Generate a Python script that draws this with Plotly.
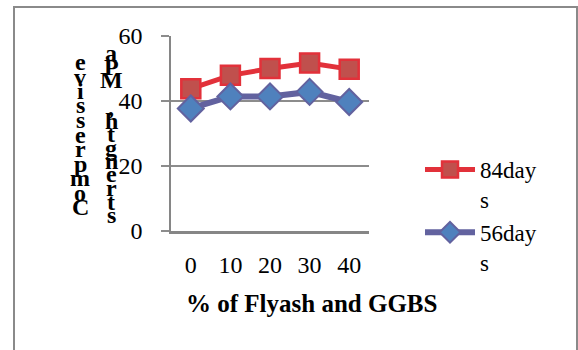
import plotly.graph_objects as go

categories = ["0", "10", "20", "30", "40"]
days84 = [43.8, 47.9, 50.0, 51.7, 49.8]
days56 = [37.7, 41.4, 41.4, 42.8, 39.7]
series_names = ["84day<br>s", "56day<br>s"]
y_ticks = [0, 20, 40, 60]
x_title = "% of Flyash and GGBS"
y_title = "Compressive strength, MPa"

W, H = 578, 350
L, R, T, B = 171, 369, 36, 231

def px2paper(px, py):
    return (px - L) / (R - L), (B - py) / (B - T)

fig = go.Figure()
fig.add_trace(go.Scatter(
    x=categories, y=days84, name=series_names[0], mode="lines+markers",
    line=dict(color="#E2313A", width=5),
    marker=dict(symbol="square", size=19, color="#C0504D",
                line=dict(color="#E2313A", width=2.5)),
))
fig.add_trace(go.Scatter(
    x=categories, y=days56, name=series_names[1], mode="lines+markers",
    line=dict(color="#62629F", width=6),
    marker=dict(symbol="diamond", size=20, color="#4F81BD",
                line=dict(color="#62629F", width=2)),
))

serif = "Liberation Serif"
annotations = []
# x-axis title
ax, ay = px2paper(311, 303)
annotations.append(dict(text=x_title, xref="paper", yref="paper", x=ax, y=ay,
                        showarrow=False, xanchor="center", yanchor="middle",
                        font=dict(family=serif, size=25, color="black", weight="bold")))
# y-axis title, rendered as stacked letters in two columns (bottom-to-top)
words = y_title.split(" ", 1)
cols = [(words[0], 80, 62, 207), (words[1], 111, 53, 215)]
for word, cx, ytop, ybot in cols:
    letters = list(reversed(word))
    n = len(letters)
    for i, ch in enumerate(letters):
        py = ytop + (ybot - ytop) * i / (n - 1)
        qx, qy = px2paper(cx, py)
        annotations.append(dict(text=ch, xref="paper", yref="paper", x=qx, y=qy,
                                showarrow=False, xanchor="center", yanchor="middle",
                                font=dict(family=serif, size=24, color="black", weight="bold")))

bx0, by0 = px2paper(14, 7)
bx1, by1 = px2paper(577, 360)
shapes = [dict(type="rect", xref="paper", yref="paper", x0=bx0, y0=by1, x1=bx1, y1=by0,
               line=dict(color="#8A8A8A", width=2), fillcolor="rgba(0,0,0,0)", layer="below")]

lgx, lgy = px2paper(420, 148)
fig.update_layout(
    width=W, height=H,
    margin=dict(l=L, r=W - R, t=T, b=H - B),
    paper_bgcolor="white", plot_bgcolor="white",
    font=dict(family=serif, size=24, color="black"),
    showlegend=True,
    legend=dict(x=lgx, y=lgy, xanchor="left", yanchor="top", bgcolor="rgba(0,0,0,0)",
                font=dict(family=serif, size=23, color="black"),
                itemwidth=50, valign="top", tracegroupgap=0),
    xaxis=dict(type="category", range=[-0.5, 4.5], showgrid=False,
               showline=True, linecolor="#868686", linewidth=3,
               ticks="", tickfont=dict(family=serif, size=24),
               ticklabelstandoff=10, zeroline=False, fixedrange=True),
    yaxis=dict(range=[0, 60], tickvals=y_ticks, showgrid=True, gridcolor="#8C8C8C",
               gridwidth=1.5, showline=True, linecolor="#868686", linewidth=1.5,
               ticks="outside", ticklen=8, tickcolor="#8C8C8C", tickwidth=1.5,
               tickfont=dict(family=serif, size=24), ticklabelstandoff=14,
               zeroline=False, fixedrange=True),
    annotations=annotations,
    shapes=shapes,
)
fig.write_html("out.html")
